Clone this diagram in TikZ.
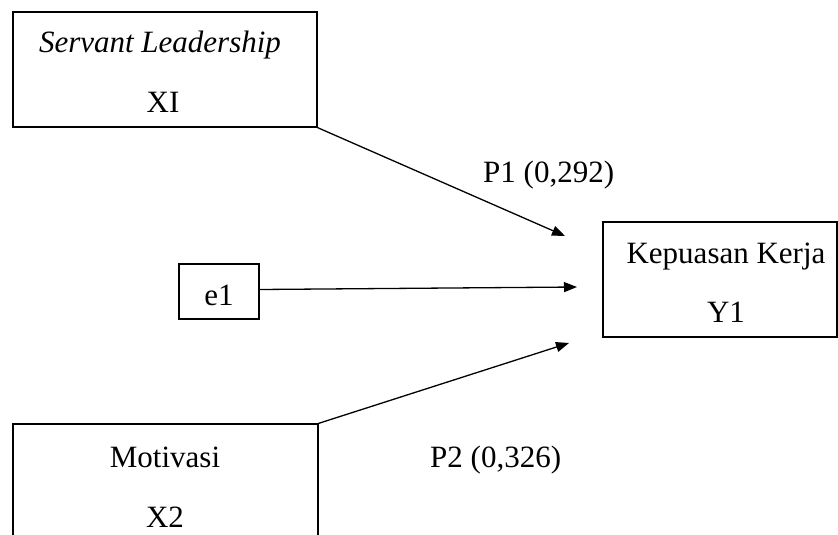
\documentclass[tikz,border=0pt]{standalone}
\usepackage{fontspec}
\setmainfont{Liberation Serif}
\usetikzlibrary{arrows.meta}
\begin{document}
\begin{tikzpicture}[x=1pt,y=-1pt,
  box/.style={draw=black,line width=1.3pt,inner sep=0pt,fill=none},
  lbl/.style={anchor=base,inner sep=0pt,font=\fontsize{31}{36}\selectfont},
  arr/.style={draw=black,line width=1.3pt,-{Triangle[length=13pt,width=10pt]}}]
\clip (0,0) rectangle (838,535);
\fill[white] (0,0) rectangle (838,535);
% boxes
\node[box,minimum width=304pt,minimum height=115pt] (sl) at (165,69.5) {};
\node[box,minimum width=80pt,minimum height=55pt] (e1) at (219,291.5) {};
\node[box,minimum width=234pt,minimum height=115pt] (kk) at (720,279.5) {};
\node[box,minimum width=305pt,minimum height=130pt] (mot) at (165.5,489) {};
% texts
\node[lbl] (t1) at (160,53) {\itshape Servant Leadership};
\node[lbl] (t2) at (163,112) {XI};
\node[lbl] (t3) at (219,305) {e1};
\node[lbl] (t4) at (726,263) {Kepuasan Kerja};
\node[lbl] (t5) at (726,322) {Y1};
\node[lbl] (t6) at (165,467) {Motivasi};
\node[lbl] (t7) at (165,527) {X2};
\node[lbl,anchor=base west] (p1) at (483,182) {P1 (0,292)};
\node[lbl,anchor=base west] (p2) at (430,467) {P2 (0,326)};
% arrow ends
\coordinate (a1) at (565,236);
\coordinate (a2) at (577,287);
\coordinate (a3) at (569,343);
\draw[arr] (sl.south east) -- (a1);
\draw[arr] ([yshift=2pt]e1.east) -- (a2);
\draw[arr] (mot.north east) -- (a3);
\end{tikzpicture}
\end{document}
